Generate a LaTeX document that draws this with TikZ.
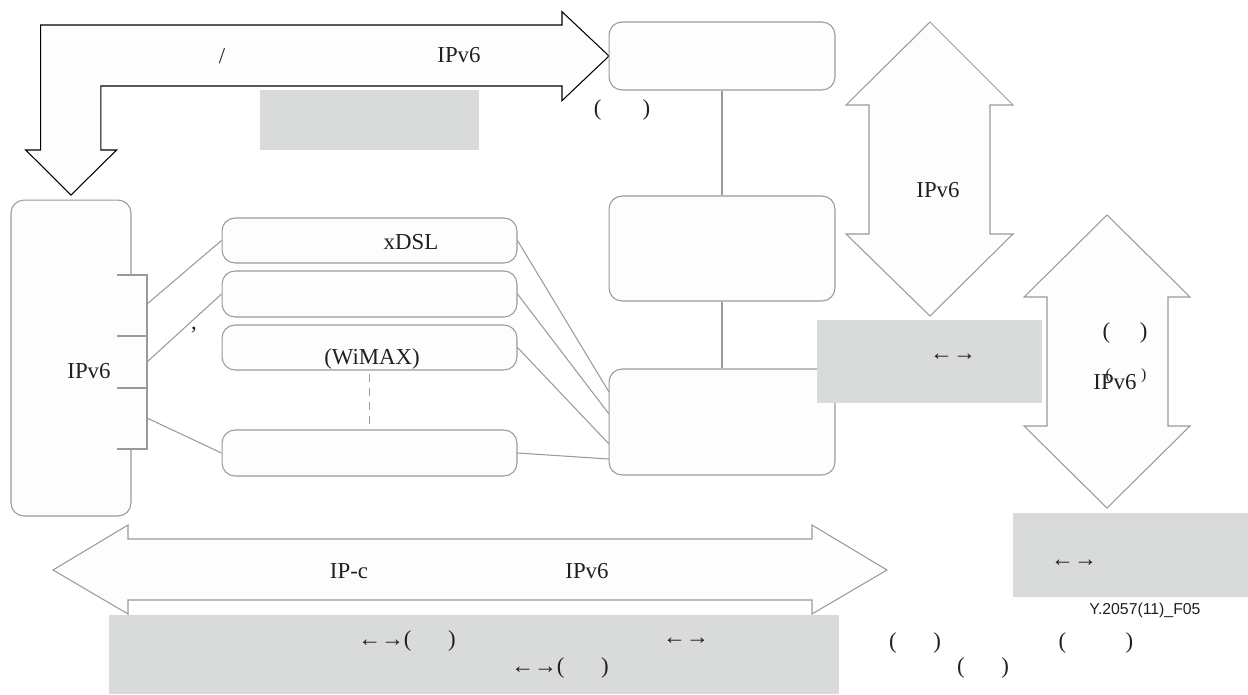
\documentclass[tikz,border=0pt]{standalone}
\usepackage{fontspec}
\setmainfont{Liberation Serif}
\newfontfamily\figsans{Liberation Sans}
\definecolor{lnc}{HTML}{9A9A9A}
\definecolor{shd}{HTML}{D9DBDB}
\definecolor{txc}{HTML}{231F20}
\definecolor{pale}{HTML}{FDFDFD}

\begin{document}
\begin{tikzpicture}[x=0.02cm, y=-0.02cm, line width=0.6pt,
  rbox/.style={draw=lnc, fill=pale, rounded corners=0.26cm, inner sep=0pt},
  greybox/.style={fill=shd, inner sep=0pt},
  bigarrow/.style={draw=lnc, fill=pale, line join=miter},
  txt/.style={text=txc, inner sep=0pt, font=\fontsize{13}{15}\selectfont}]
\useasboundingbox (0,0) rectangle (1248,694);

% big hollow arrows
\draw[black, fill=pale, line join=miter] (25.7,150) -- (71,195) -- (116.6,150) -- (100.8,150) -- (100.8,86) -- (562,86) -- (562,100.7) -- (609,56) -- (562,11.7) -- (562,25) -- (40.7,25) -- (40.7,150) -- cycle;
\draw[bigarrow] (930,22) -- (1013,105) -- (990,105) -- (990,234) -- (1013,234) -- (930,316) -- (846,234) -- (869,234) -- (869,105) -- (846,105) -- cycle;
\draw[bigarrow] (1107,215) -- (1190,297) -- (1168,297) -- (1168,426) -- (1190,426) -- (1107,508) -- (1024,426) -- (1047,426) -- (1047,297) -- (1024,297) -- cycle;
\draw[bigarrow] (53,570) -- (128,525) -- (128,539) -- (812,539) -- (812,525) -- (887,570) -- (812,614) -- (812,600) -- (128,600) -- (128,614) -- cycle;

\node[greybox, minimum width=4.38cm, minimum height=1.2cm] at (369.5,120) (note1) {};

% host and access boxes
\node[rbox, minimum width=2.4cm, minimum height=6.32cm] at (71,358) (host) {};
\filldraw[draw=lnc, fill=pale] (117,275) -- (147,275) -- (147,449) -- (117,449);
\draw[lnc] (117,336) -- (147,336) (117,388) -- (147,388);
\coordinate (p1) at (147,304);
\coordinate (p2) at (147,362);
\coordinate (p3) at (147,418);

\node[rbox, minimum width=5.9cm, minimum height=0.9cm] at (369.5,240.5) (dsl) {};
\node[rbox, minimum width=5.9cm, minimum height=0.92cm] at (369.5,294) (acc2) {};
\node[rbox, minimum width=5.9cm, minimum height=0.9cm] at (369.5,347.5) (wimax) {};
\node[rbox, minimum width=5.9cm, minimum height=0.92cm] at (369.5,453) (acc4) {};

\draw[lnc] (p1) -- (dsl.west);
\draw[lnc] (p2) -- (acc2.west);
\draw[lnc] (p3) -- (acc4.west);
\draw[lnc, dash pattern=on 5pt off 3pt, shorten <=1.7pt, shorten >=1.7pt] (wimax.south) -- (acc4.north);

% right column
\node[rbox, minimum width=4.52cm, minimum height=1.36cm] at (722,56) (boxa) {};
\node[rbox, minimum width=4.52cm, minimum height=2.1cm] at (722,248.5) (boxb) {};
\coordinate (c1) at (609,392);
\coordinate (c2) at (609,414);
\coordinate (c3) at (609,444);
\coordinate (c4) at (609,459);
\draw[lnc] (dsl.east) -- (c1);
\draw[lnc] (acc2.east) -- (c2);
\draw[lnc] (wimax.east) -- (c3);
\draw[lnc] (acc4.east) -- (c4);
\node[rbox, minimum width=4.52cm, minimum height=2.12cm] at (722,422) (boxc) {};
\draw[lnc] (boxa.south) -- (boxb.north);
\draw[lnc] (boxb.south) -- (boxc.north);

\node[greybox, minimum width=4.5cm, minimum height=1.66cm] at (929.5,361.5) (note2) {};
\node[greybox, minimum width=4.7cm, minimum height=1.68cm] at (1130.5,555) (note3) {};
\node[greybox, minimum width=14.6cm, minimum height=1.58cm] at (474,654.5) (note4) {};

% labels
\node[txt] at (222,56) (t1) {/};
\node[txt] at (459,55) (t2) {IPv6};
\node[txt] at (622,110) (t3) {(\hspace{1.8em})};
\node[txt] at (938,190) (t4) {IPv6};
\node[txt] at (89,371) (t5) {IPv6};
\node[txt] at (411,242) (t6) {xDSL};
\node[txt] at (194,330) (t7) {,};
\node[txt] at (372,359) (t8) {(WiMAX)};
\node[txt] at (953,357) (t9) {←→};
\node[txt] at (1125,333) (t10) {(\hspace{1.3em})};
\node[txt] at (1115,382) (t11) {IPv6};
\node[txt, font=\fontsize{9}{11}\selectfont] at (1126,376) (t12) {(\hspace{1.9em})};
\node[txt] at (1074,563) (t13) {←→};
\node[txt, font=\figsans\fontsize{9}{11}\selectfont] at (1145,610) (fig) {Y.2057(11)\_F05};
\node[txt] at (349,571) (t14) {IP-c};
\node[txt] at (587,571) (t15) {IPv6};
\node[txt] at (407,641) (t16) {←→(\hspace{1.6em})};
\node[txt] at (686,641) (t17) {←→};
\node[txt] at (560,668) (t18) {←→(\hspace{1.6em})};
\node[txt] at (915,643) (t19) {(\hspace{1.6em})};
\node[txt] at (1096,643) (t20) {(\hspace{2.6em})};
\node[txt] at (983,668) (t21) {(\hspace{1.6em})};
\end{tikzpicture}
\end{document}
